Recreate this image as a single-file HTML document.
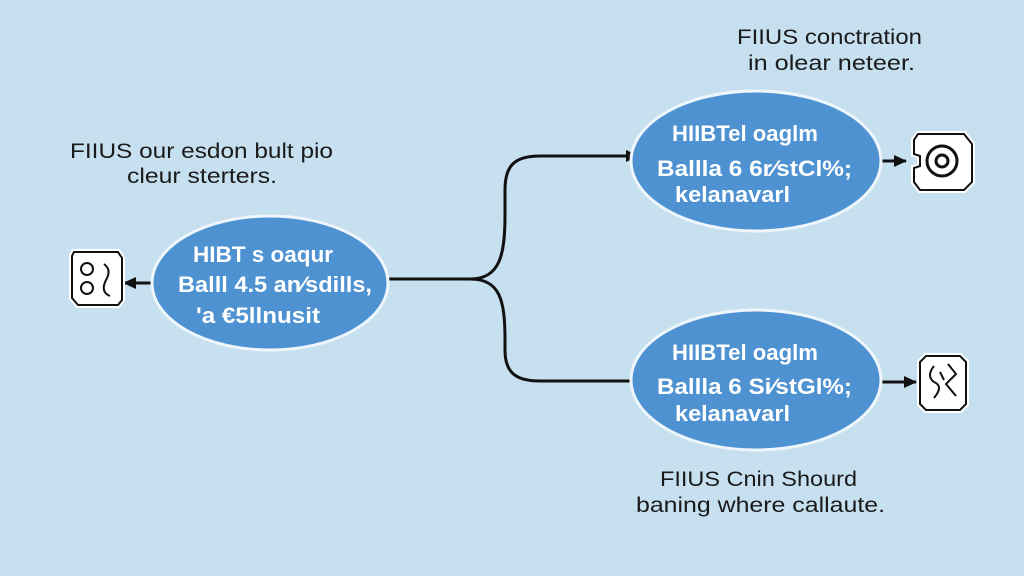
<!DOCTYPE html>
<html><head><meta charset="utf-8"><style>
html,body{margin:0;padding:0;width:1024px;height:576px;overflow:hidden;background:#c6e0f0;}
svg{display:block}
text{font-family:"Liberation Sans",Arial,sans-serif;}
</style></head><body>
<svg width="1024" height="576" viewBox="0 0 1024 576" xmlns="http://www.w3.org/2000/svg">
<defs>
<marker id="ah" markerWidth="14" markerHeight="14" refX="12" refY="7" orient="auto" markerUnits="userSpaceOnUse">
<path d="M0,1 L13,7 L0,13 Z" fill="#111"/></marker>
</defs>
<rect width="1024" height="576" fill="#c6e0f0"/>
<g fill="#1a1a1a" font-size="21" lengthAdjust="spacingAndGlyphs">
<text x="70" y="158" textLength="263" lengthAdjust="spacingAndGlyphs">FIIUS our esdon bult pio</text>
<text x="127" y="183" textLength="150" lengthAdjust="spacingAndGlyphs">cleur sterters.</text>
<text x="737" y="44" textLength="185" lengthAdjust="spacingAndGlyphs">FIIUS conctration</text>
<text x="748" y="70" textLength="167" lengthAdjust="spacingAndGlyphs">in olear neteer.</text>
<text x="660" y="486" textLength="197" lengthAdjust="spacingAndGlyphs">FIIUS Cnin Shourd</text>
<text x="636" y="512" textLength="249" lengthAdjust="spacingAndGlyphs">baning where callaute.</text>
</g>
<g fill="none" stroke="#111" stroke-width="3">
<path d="M386,279 L470,279 C500,279 505,255 505,215 L505,190 C505,165 515,156 540,156 L638,156" marker-end="url(#ah)"/>
<path d="M470,279 C500,279 505,300 505,340 L505,350 C505,372 515,381 540,381 L644,381"/>
<path d="M152,283 L124,283" marker-end="url(#ah)"/>
<path d="M865,161 L906,161" marker-end="url(#ah)"/>
<path d="M868,382 L916,382" marker-end="url(#ah)"/>
</g>
<g fill="#4e92d2" stroke="#eef6fb" stroke-width="3">
<ellipse cx="270" cy="283" rx="118" ry="67"/>
<ellipse cx="756" cy="161" rx="125" ry="70"/>
<ellipse cx="756" cy="380" rx="125" ry="70"/>
</g>
<g fill="#fff" font-size="22" font-weight="bold">
<text x="193" y="262" textLength="140" lengthAdjust="spacingAndGlyphs">HIBT s oaqur</text>
<text x="178" y="292" textLength="194" lengthAdjust="spacingAndGlyphs">Balll 4.5 an⁄sdills,</text>
<text x="196" y="323" textLength="124" lengthAdjust="spacingAndGlyphs">'a €5llnusit</text>
<text x="672" y="141" textLength="146" lengthAdjust="spacingAndGlyphs">HIIBTel oaglm</text>
<text x="657" y="176" textLength="195" lengthAdjust="spacingAndGlyphs">Ballla 6 6r⁄stCl%;</text>
<text x="675" y="202" textLength="115" lengthAdjust="spacingAndGlyphs">kelanavarl</text>
<text x="672" y="360" textLength="146" lengthAdjust="spacingAndGlyphs">HIIBTel oaglm</text>
<text x="657" y="394" textLength="195" lengthAdjust="spacingAndGlyphs">Ballla 6 Si⁄stGl%;</text>
<text x="675" y="421" textLength="115" lengthAdjust="spacingAndGlyphs">kelanavarl</text>
</g>
<g stroke="#111" stroke-width="2" fill="#fff">
<path d="M74,252 L118,252 L122,258 L122,300 L118,305 L78,305 L72,298 L72,256 Z" stroke="#fff" stroke-width="6"/>
<path d="M74,252 L118,252 L122,258 L122,300 L118,305 L78,305 L72,298 L72,256 Z"/>
<circle cx="87" cy="269" r="6" fill="none"/><circle cx="87" cy="288" r="6" fill="none"/>
<path d="M104,264 Q112,270 106,280 Q100,292 110,296" fill="none"/>
<path d="M918,134 L964,134 L972,144 L972,182 L964,190 L920,190 L914,182 L914,168 L920,166 L920,156 L914,154 L914,140 Z" stroke="#fff" stroke-width="6"/>
<path d="M918,134 L964,134 L972,144 L972,182 L964,190 L920,190 L914,182 L914,168 L920,166 L920,156 L914,154 L914,140 Z"/>
<circle cx="942" cy="161" r="15" fill="none" stroke-width="3"/><circle cx="942" cy="161" r="6" fill="none" stroke-width="3"/>
<path d="M926,356 L960,356 L966,362 L966,404 L960,410 L926,410 L920,404 L920,362 Z" stroke="#fff" stroke-width="6"/>
<path d="M926,356 L960,356 L966,362 L966,404 L960,410 L926,410 L920,404 L920,362 Z"/>
<path d="M934,366 Q926,376 934,382 Q944,386 934,398 M948,364 L956,374 L946,384 L956,396 M940,372 L944,380" fill="none"/>
</g>
</svg>
</body></html>
